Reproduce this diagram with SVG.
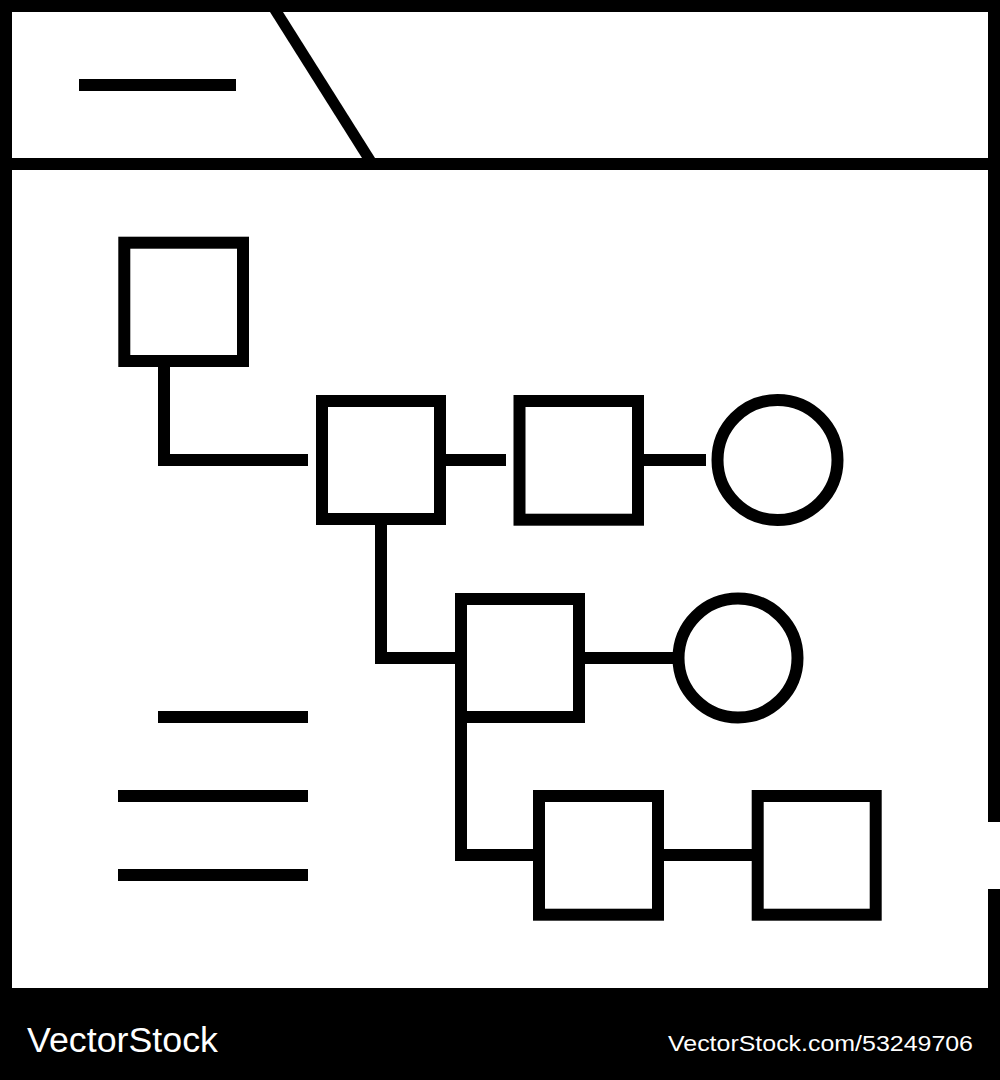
<svg xmlns="http://www.w3.org/2000/svg" width="1000" height="1080" viewBox="0 0 1000 1080">
  <style>
    .node { fill: none; stroke: #000; stroke-width: 12; }
    .conn { fill: none; stroke: #000; stroke-width: 12; stroke-linecap: butt; stroke-linejoin: miter; }
    .bar { fill: #000; }
    .foot { fill: #fff; font-family: "Liberation Sans", Arial, sans-serif; }
  </style>
  <rect x="0" y="0" width="1000" height="1080" fill="#fff"/>
  <g id="frame">
    <rect class="bar" x="0" y="0" width="1000" height="12"/>
    <rect class="bar" x="0" y="0" width="12" height="1080"/>
    <rect class="bar" x="988" y="0" width="12" height="822"/>
    <rect class="bar" x="988" y="889" width="12" height="191"/>
    <rect class="bar" x="0" y="158" width="1000" height="12"/>
    <polygon class="bar" points="270,12 283,12 375,158 362,158"/>
    <rect class="bar" x="79" y="79" width="157" height="12"/>
    <rect class="bar" x="0" y="988" width="1000" height="92"/>
  </g>
  <g id="text-lines">
    <rect class="bar" x="158" y="711" width="150" height="12"/>
    <rect class="bar" x="118" y="790" width="190" height="12"/>
    <rect class="bar" x="118" y="869" width="190" height="12"/>
  </g>
  <g id="connectors">
    <path class="conn" d="M164 367 V460 H308"/>
    <path class="conn" d="M446 460 H506"/>
    <path class="conn" d="M644 460 H706"/>
    <path class="conn" d="M381 525 V658 H455"/>
    <path class="conn" d="M585 658 H673"/>
    <path class="conn" d="M461 723 V855 H533"/>
    <path class="conn" d="M664 855 H752"/>
  </g>
  <g id="box1"><rect class="node" x="124.3" y="242.7" width="118.7" height="118.3"/></g>
  <g id="box2"><rect class="node" x="322" y="401" width="118" height="118"/></g>
  <g id="box3"><rect class="node" x="519.5" y="401" width="118.5" height="118.7"/></g>
  <g id="circle1"><circle class="node" cx="777.5" cy="460" r="60"/></g>
  <g id="box4"><rect class="node" x="461" y="599" width="118" height="118"/></g>
  <g id="circle2"><circle class="node" cx="738" cy="658" r="59.5"/></g>
  <g id="box5"><rect class="node" x="539" y="796" width="119" height="118.7"/></g>
  <g id="box6"><rect class="node" x="757.7" y="796" width="118" height="118.7"/></g>
  <g id="footer">
    <text class="foot" x="27" y="1052" font-size="35" textLength="191" lengthAdjust="spacingAndGlyphs">VectorStock</text>
    <text class="foot" x="668" y="1051" font-size="22.5" textLength="305" lengthAdjust="spacingAndGlyphs">VectorStock.com/53249706</text>
  </g>
</svg>
